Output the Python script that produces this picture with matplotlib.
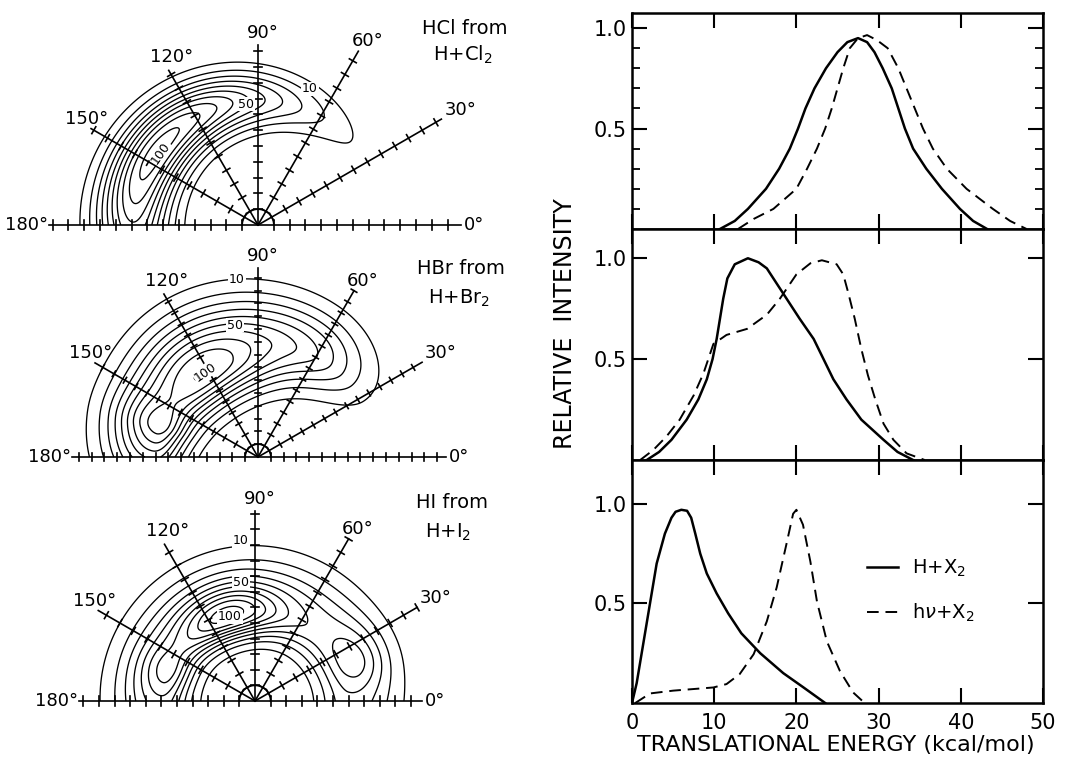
import numpy as np
import matplotlib.pyplot as plt

W, H = 1068, 762

# ---- right-hand energy distributions (kcal/mol, relative intensity) ----
hcl_solid_x = [10.7, 12.5, 14.1, 16.3, 17.9, 19.2, 20.2, 21.1, 22.2, 23.6, 25.0, 26.2, 27.5,
               28.6, 29.5, 30.5, 31.6, 32.4, 33.2, 34.2, 35.8, 37.7, 39.9, 41.5, 43.2]
hcl_solid_y = [0.0, 0.04, 0.1, 0.2, 0.3, 0.4, 0.5, 0.6, 0.7, 0.8, 0.88, 0.93, 0.95,
               0.93, 0.88, 0.8, 0.7, 0.6, 0.5, 0.4, 0.3, 0.2, 0.1, 0.04, 0.0]
hcl_dash_x = [12.9, 14.8, 17.2, 20.0, 21.3, 22.5, 23.5, 24.3, 25.0, 25.7, 26.5, 27.5, 28.6,
              29.8, 31.1, 32.4, 33.4, 34.4, 35.4, 36.6, 38.3, 40.7, 43.9, 46.0, 48.0]
hcl_dash_y = [0.0, 0.05, 0.1, 0.2, 0.3, 0.4, 0.5, 0.6, 0.7, 0.8, 0.9, 0.95, 0.965,
              0.94, 0.9, 0.8, 0.7, 0.6, 0.5, 0.4, 0.3, 0.2, 0.1, 0.04, 0.0]

hbr_solid_x = [1.8, 3.3, 4.8, 6.65, 8.07, 9.1, 9.8, 10.3, 10.7, 11.1, 11.6, 12.5, 14.1,
               15.4, 16.4, 17.2, 18.8, 20.4, 22.1, 23.3, 24.5, 26.1, 27.9, 30.6, 32.3, 34.2]
hbr_solid_y = [0.0, 0.04, 0.1, 0.2, 0.3, 0.4, 0.5, 0.6, 0.7, 0.8, 0.9, 0.97, 1.0,
               0.98, 0.95, 0.9, 0.8, 0.7, 0.6, 0.5, 0.4, 0.3, 0.2, 0.1, 0.04, 0.0]
hbr_dash_x = [1.0, 2.6, 4.2, 5.8, 7.5, 8.7, 9.9, 11.5, 14.0, 16.4, 18.0, 20.0, 21.7, 23.1,
              24.9, 25.7, 26.3, 27.1, 27.9, 28.7, 29.6, 30.6, 31.8, 33.4, 35.6]
hbr_dash_y = [0.0, 0.05, 0.117, 0.2, 0.32, 0.43, 0.575, 0.62, 0.65, 0.72, 0.8, 0.92, 0.975, 0.99,
              0.97, 0.92, 0.83, 0.7, 0.55, 0.42, 0.3, 0.18, 0.1, 0.033, 0.0]

hi_solid_x = [0.0, 0.57, 1.38, 2.19, 3.0, 4.0, 4.8, 5.3, 6.0, 6.7, 7.2, 7.7, 8.3, 9.1, 10.3,
              11.7, 13.3, 15.6, 18.4, 20.8, 23.5]
hi_solid_y = [0.0, 0.1, 0.3, 0.5, 0.7, 0.85, 0.93, 0.96, 0.97, 0.965, 0.93, 0.85, 0.75, 0.65, 0.55,
              0.45, 0.35, 0.25, 0.15, 0.08, 0.0]
hi_dash_x = [0.4, 2.2, 5.0, 9.9, 11.5, 13.1, 14.8, 16.4, 17.6, 18.8, 19.6, 20.0, 20.8, 21.7,
             22.5, 23.7, 25.3, 26.9, 28.3]
hi_dash_y = [0.0, 0.048, 0.062, 0.078, 0.095, 0.145, 0.245, 0.41, 0.58, 0.8, 0.95, 0.97, 0.895, 0.71,
             0.51, 0.31, 0.16, 0.053, 0.0]

energy_ticks = [0, 10, 20, 30, 40, 50]
legend_labels = ["H+X$_2$", "h$\\nu$+X$_2$"]

# ---- left-hand polar flux maps: lobes (amp, r0, theta0, sr_in, sr_out, sth_lo, sth_hi, sr_slope) ----
hcl_lobes = [(105, 7.9, 144, 1.45, 1.5, 47, 47, 0.4)]
hbr_lobes = [(100, 7.8, 125, 2.0, 3.0, 36, 36, 0.0),
             (33, 9.3, 62, 1.6, 2.2, 20, 25, 0.0),
             (40, 8.2, 165, 1.4, 2.4, 10, 22, 0.0)]
hi_lobes = [(52, 6.0, 130, 1.4, 2.2, 150, 150, 0.0),
            (55, 5.7, 107, 1.0, 1.2, 22, 25, 0.0),
            (20, 6.0, 162, 1.0, 1.2, 10, 12, 0.0),
            (20, 7.0, 22, 1.0, 1.3, 10, 12, 0.0)]
contour_levels = [10, 20, 30, 40, 50, 60, 70, 80, 90, 100]
spoke_angles = [30, 60, 90, 120, 150]
titles = [("HCl from", "H+Cl$_2$"), ("HBr from", "H+Br$_2$"), ("HI from", "H+I$_2$")]


def lobe_field(r, th, lobes):
    z = np.zeros_like(r)
    for amp, r0, th0, sr_in, sr_out, st_lo, st_hi, slope in lobes:
        sr = np.where(r < r0, sr_in, sr_out) + slope * (th - th0) / 90.0
        st = np.where(th < th0, st_lo, st_hi)
        z += amp * np.exp(-0.5 * ((r - r0) / sr) ** 2 - 0.5 * ((th - th0) / st) ** 2)
    return z


fig = plt.figure(figsize=(W / 100, H / 100), dpi=100)


def ftxt(px, py, s, **kw):
    fig.text(px / W, 1 - py / H, s, **kw)


# panel geometry in pixels: center, px per unit, box, axis ends, spoke lengths
panels = [
    dict(c=(258, 225), s=15.8, box=(0, 0, 540, 240), ax_l=13.2, ax_r=12.85,
         spokes=[13.4, 12.7, 11.4, 11.3, 12.2], lobes=hcl_lobes,
         title_xy=[(465, 29), (463, 55)],
         clabels=[("10", 310, 89, 0), ("50", 246, 104, 0), ("100", 161, 153, 55)]),
    dict(c=(258, 457), s=12.8, box=(0, 240, 540, 478), ax_l=14.5, ax_r=14.7,
         spokes=[14.8, 15.0, 14.8, 14.7, 14.7], lobes=hbr_lobes,
         title_xy=[(461, 268), (459, 298)],
         clabels=[("10", 237, 280, 0), ("50", 235, 325, 0), ("100", 205, 372, 35)]),
    dict(c=(255, 701), s=15.6, box=(0, 478, 540, 750), ax_l=11.3, ax_r=10.7,
         spokes=[12.0, 12.0, 12.2, 11.6, 11.6], lobes=hi_lobes,
         title_xy=[(452, 502), (448, 532)],
         clabels=[("10", 241, 541, 0), ("50", 241, 582, 0), ("100", 230, 617, 0)]),
]
label_offsets = {30: ("left", "center", 3, 9), 60: ("center", "bottom", 9, 1),
                 90: ("center", "bottom", 5, 3), 120: ("center", "bottom", 3, 4),
                 150: ("center", "bottom", -4, 1)}

rr = np.linspace(0, 16, 400)
tt = np.linspace(0, 180, 361)
RR, TT = np.meshgrid(rr, tt)
XX = RR * np.cos(np.radians(TT))
YY = RR * np.sin(np.radians(TT))

for p, (t1, t2) in zip(panels, titles):
    cx, cy = p["c"]
    s = p["s"]
    x0, y0, x1, y1 = p["box"]
    ax = fig.add_axes([x0 / W, 1 - y1 / H, (x1 - x0) / W, (y1 - y0) / H])
    ax.set_xlim((x0 - cx) / s, (x1 - cx) / s)
    ax.set_ylim((cy - y1) / s, (cy - y0) / s)
    ax.axis("off")

    Z = lobe_field(RR, TT, p["lobes"])
    ax.contour(XX, YY, Z, levels=contour_levels, colors="k", linewidths=0.95)

    lw = 1.2
    # baseline 180 -> 0 with ticks
    ax.plot([-p["ax_l"], p["ax_r"]], [0, 0], color="k", lw=lw)
    for k in range(1, int(p["ax_r"]) + 1):
        ax.plot([k, k], [-0.3, 0.3], color="k", lw=lw)
    for k in range(1, int(p["ax_l"]) + 1):
        ax.plot([-k, -k], [-0.3, 0.3], color="k", lw=lw)
    # small arc at origin
    a = np.radians(np.linspace(0, 180, 60))
    ax.plot(np.cos(a), np.sin(a), color="k", lw=lw)
    # spokes
    for ang, L in zip(spoke_angles, p["spokes"]):
        ca, sa = np.cos(np.radians(ang)), np.sin(np.radians(ang))
        ax.plot([0, L * ca], [0, L * sa], color="k", lw=lw)
        for k in range(1, int(L) + 1):
            ax.plot([k * ca - 0.25 * sa, k * ca + 0.25 * sa],
                    [k * sa + 0.25 * ca, k * sa - 0.25 * ca], color="k", lw=lw)
        ha, va, ox, oy = label_offsets[ang]
        ax.annotate(f"{ang}°", (L * ca, L * sa), xytext=(ox, oy), textcoords="offset pixels",
                    ha=ha, va=va, fontsize=13)
    ax.annotate("180°", (-p["ax_l"], 0), xytext=(-1, 0), textcoords="offset pixels",
                ha="right", va="center", fontsize=13)
    ax.annotate("0°", (p["ax_r"], 0), xytext=(3, 0), textcoords="offset pixels",
                ha="left", va="center", fontsize=13)

    (tx1, ty1), (tx2, ty2) = p["title_xy"]
    ftxt(tx1, ty1, t1, ha="center", va="center", fontsize=14)
    ftxt(tx2, ty2, t2, ha="center", va="center", fontsize=14)
    for txt, px, py, rot in p["clabels"]:
        ftxt(px, py, txt, ha="center", va="center", fontsize=9, rotation=rot,
             bbox=dict(facecolor="white", edgecolor="none", pad=0.5))

# ---- right-hand panels ----
right_rows = [(13, 229, 1.075), (229, 460, 1.145), (460, 703, 1.22)]
curves = [(hcl_solid_x, hcl_solid_y, hcl_dash_x, hcl_dash_y),
          (hbr_solid_x, hbr_solid_y, hbr_dash_x, hbr_dash_y),
          (hi_solid_x, hi_solid_y, hi_dash_x, hi_dash_y)]
axes_r = []
for i, ((top, bot, ymax), (sx, sy, dx, dy)) in enumerate(zip(right_rows, curves)):
    ax = fig.add_axes([632 / W, 1 - bot / H, (1043 - 632) / W, (bot - top) / H])
    ax.plot(sx, sy, color="k", lw=1.8, solid_joinstyle="round")
    ax.plot(dx, dy, color="k", lw=1.4, dashes=(6, 3.5))
    ax.set_xlim(0, 50)
    ax.set_ylim(0, ymax)
    ax.set_yticks([0.5, 1.0])
    ax.set_yticklabels(["0.5", "1.0"])
    ax.set_xticks(energy_ticks)
    ax.tick_params(direction="in", top=True, right=True, length=11, width=1.5,
                   labelsize=15, pad=4)
    if i == 0:
        ax.set_yticks(np.arange(0.1, 1.01, 0.1), minor=True)
        ax.tick_params(which="minor", direction="in", left=True, right=True, length=6, width=1.3)
    if i < 2:
        ax.tick_params(labelbottom=False)
    else:
        ax.set_xticklabels([str(v) for v in energy_ticks])
        ax.tick_params(axis="x", pad=7)
    for sp in ax.spines.values():
        sp.set_linewidth(1.8)
    axes_r.append(ax)

leg = axes_r[2].legend(axes_r[2].lines, legend_labels, loc="center left",
                       bbox_to_anchor=((867 - 632) / 411, 1 - (591 - 460) / 243),
                       frameon=False, fontsize=14, handlelength=1.6, handletextpad=0.7,
                       labelspacing=1.2, borderpad=0, borderaxespad=0)

ftxt(565, 324, "RELATIVE  INTENSITY", rotation=90, ha="center", va="center", fontsize=17)
ftxt(836, 745, "TRANSLATIONAL ENERGY (kcal/mol)", ha="center", va="center", fontsize=16)

fig.savefig("out.png", dpi=100)
